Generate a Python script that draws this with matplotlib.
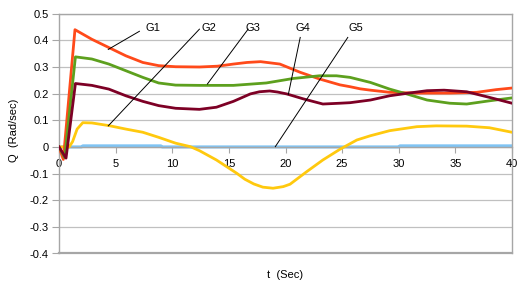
import matplotlib
matplotlib.use("Agg")
import matplotlib.pyplot as plt

plt.rcParams['font.family'] = ['Liberation Sans', 'DejaVu Sans']

# values
t_g1 = [0, 0.38, 1.41, 2.9, 4.4, 5.9, 7.4, 8.8, 10.3, 12.4, 14.0, 15.4, 16.6, 17.8, 19.5,
        21.3, 23.0, 24.8, 25.7, 26.6, 27.5, 29.2, 31.6, 34.5, 36.9, 38.6, 40]
g1 = [0, -0.047, 0.44, 0.404, 0.373, 0.342, 0.317, 0.305, 0.301, 0.300, 0.303, 0.311,
      0.317, 0.320, 0.311, 0.280, 0.255, 0.233, 0.226, 0.218, 0.213, 0.205, 0.202, 0.202,
      0.205, 0.215, 0.221]

t_g2 = [0, 0.9, 1.2, 1.6, 2.1, 2.9, 4.4, 5.9, 7.4, 8.8, 10.3, 11.6, 12.4, 13.9, 15.7,
        16.4, 17.2, 18.0, 18.9, 19.8, 20.4, 21.9, 23.3, 24.8, 26.3, 27.5, 29.2, 31.6, 33.3,
        36.0, 38.0, 40]
g2 = [0, 0, 0.02, 0.067, 0.091, 0.09, 0.08, 0.067, 0.055, 0.036, 0.014, 0.001, -0.014,
      -0.049, -0.099, -0.121, -0.139, -0.151, -0.155, -0.149, -0.140, -0.092, -0.049,
      -0.009, 0.026, 0.042, 0.061, 0.076, 0.079, 0.078, 0.072, 0.055]

t_g3 = [0, 0.5, 1.45, 2.9, 4.4, 5.9, 7.4, 8.8, 10.3, 12.4, 15.4, 18.3, 20.7, 23.0, 24.5,
        25.7, 27.5, 29.2, 30.7, 32.5, 34.5, 36.0, 38.0, 40]
g3 = [0, -0.04, 0.338, 0.33, 0.311, 0.286, 0.261, 0.24, 0.232, 0.231, 0.231, 0.24, 0.257,
      0.267, 0.267, 0.261, 0.242, 0.217, 0.199, 0.176, 0.164, 0.161, 0.173, 0.184]

t_g4 = [0, 0.62, 1.45, 2.9, 4.4, 5.9, 7.4, 8.8, 10.3, 12.4, 13.9, 15.4, 16.9, 17.7, 18.6,
        19.3, 20.1, 21.6, 23.3, 24.8, 25.7, 27.5, 29.2, 30.7, 32.5, 34.0, 36.0, 38.0, 40]
g4 = [0, -0.042, 0.238, 0.231, 0.217, 0.192, 0.171, 0.155, 0.145, 0.141, 0.149, 0.171,
      0.199, 0.207, 0.210, 0.206, 0.199, 0.180, 0.161, 0.164, 0.166, 0.176, 0.192, 0.201,
      0.211, 0.213, 0.207, 0.186, 0.164]

t_g5 = [0, 2.0, 2.1, 9.0, 9.1, 30.0, 30.1, 40]
g5 = [0, 0, 0.004, 0.004, 0, 0, 0.004, 0.004]

x_ticks = [0, 5, 10, 15, 20, 25, 30, 35, 40]
y_ticks = [-0.4, -0.3, -0.2, -0.1, 0, 0.1, 0.2, 0.3, 0.4, 0.5]
y_ticklabels = ["-0.4", "-0.3", "-0.2", "-0.1", "0", "0.1", "0.2", "0.3", "0.4", "0.5"]

fig = plt.figure(figsize=(5.18, 2.84), dpi=100)
ax = fig.add_axes([59 / 518, 1 - 253.5 / 284, 453 / 518, (253.5 - 13.7) / 284])

border = "#A6A6A6"
for y in y_ticks:
    ax.axhline(y, color="#C0C0C0", lw=0.9, zorder=1)

ax.plot(t_g5, g5, color="#80C4F4", lw=2.2, zorder=2)
ax.plot(t_g2, g2, color="#FFC90E", lw=2.0, zorder=3)
ax.plot(t_g1, g1, color="#FF4A1A", lw=2.0, zorder=3)
ax.plot(t_g3, g3, color="#5DA01E", lw=2.0, zorder=3)
ax.plot(t_g4, g4, color="#7D0025", lw=2.0, zorder=3)

ax.set_xlim(0, 40)
ax.set_ylim(-0.4, 0.5)
ax.set_xticks(x_ticks)
ax.set_xticklabels([str(x) for x in x_ticks])
ax.set_yticks(y_ticks)
ax.set_yticklabels(y_ticklabels)

ax.spines["bottom"].set_position(("data", 0))
for s in ["left", "right", "top", "bottom"]:
    ax.spines[s].set_color(border)
    ax.spines[s].set_linewidth(1.0)
ax.axhline(-0.4, color=border, lw=1.6, zorder=4, clip_on=False)
ax.tick_params(axis="x", direction="out", length=4, width=0.8, color=border,
               labelsize=8, pad=5)
ax.tick_params(axis="y", direction="out", length=5, width=0.8, color=border,
               labelsize=8, pad=2.5)

# callout labels
labels = ["G1", "G2", "G3", "G4", "G5"]
text_x = [8.3, 13.2, 17.1, 21.5, 26.2]
line_start = [(7.1, 0.434), (12.4, 0.442), (16.7, 0.442), (21.3, 0.411), (25.5, 0.411)]
line_end = [(4.35, 0.366), (4.35, 0.079), (13.1, 0.236), (20.25, 0.197), (19.1, 0.001)]
for lab, tx, p0, p1 in zip(labels, text_x, line_start, line_end):
    ax.text(tx, 0.446, lab, fontsize=8, ha="center", va="center", zorder=6)
    ax.plot([p0[0], p1[0]], [p0[1], p1[1]], color="black", lw=0.7, zorder=6)

fig.text(285.5 / 518, 1 - 275 / 284, "t  (Sec)", fontsize=8, ha="center", va="center")
fig.text(14 / 518, 1 - 130 / 284, "Q  (Rad/sec)", fontsize=8, ha="center",
         va="center", rotation=90)

fig.savefig("out.png", dpi=100)
